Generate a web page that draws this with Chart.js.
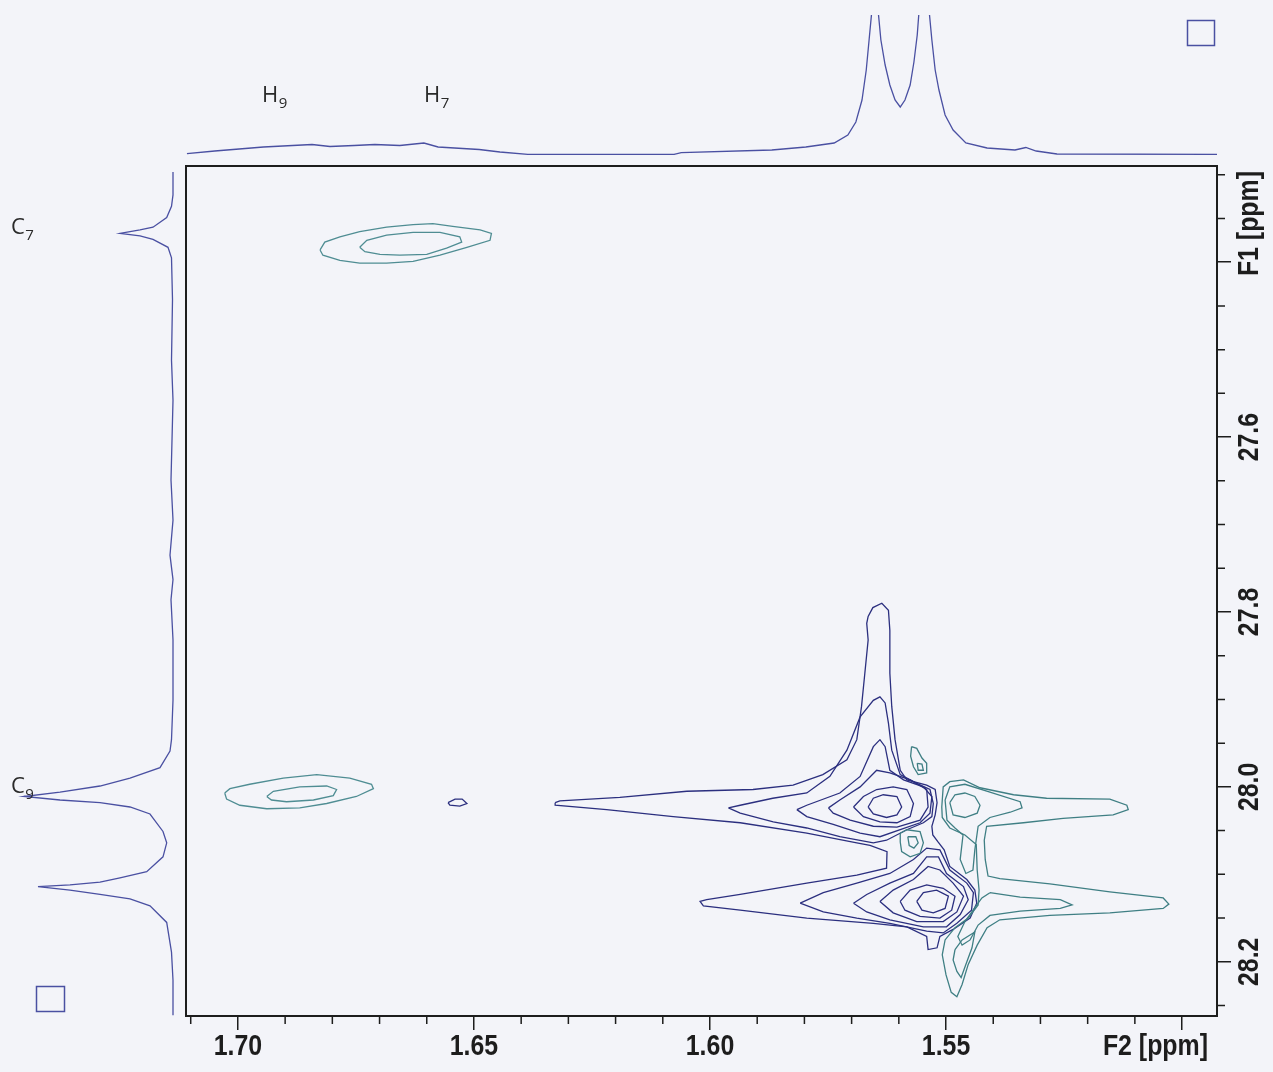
<!DOCTYPE html>
<html>
<head>
<meta charset="utf-8">
<title>HSQC 1.49-1.71 / 27.29-28.26 ppm</title>
<script src="https://cdn.jsdelivr.net/npm/chart.js@4.4.1/dist/chart.umd.min.js"></script>
<style>
  html, body { margin: 0; padding: 0; background: #f3f4f9; }
  #stage { position: relative; width: 1273px; height: 1072px; overflow: hidden; }
  #stage canvas { position: absolute; }
  #spectrum { left: 0; top: 0; }
  #projF1 { left: 0; top: 0; }
  #projF2 { left: 186px; top: 0; }
</style>
</head>
<body>
<div id="stage">
  <canvas id="spectrum" width="1273" height="1072"></canvas>
  <canvas id="projF1" width="186" height="1072"></canvas>
  <canvas id="projF2" width="1031" height="166"></canvas>
</div>
<script>
// ---------- plotted window (ppm) ----------
const f2Range = [1.4926, 1.711];   // 1H, drawn right-to-left
const f1Range = [27.29, 28.262];   // 13C, drawn top-to-bottom

const f2MajorTicks = [1.50, 1.55, 1.60, 1.65, 1.70];
const f2MinorTicks = [1.51, 1.52, 1.53, 1.54, 1.56, 1.57, 1.58, 1.59, 1.61, 1.62, 1.63, 1.64, 1.66, 1.67, 1.68, 1.69, 1.71];
const f1MajorTicks = [27.4, 27.6, 27.8, 28.0, 28.2];
const f1MinorTicks = [27.30, 27.35, 27.45, 27.50, 27.55, 27.65, 27.70, 27.75, 27.85, 27.90, 27.95, 28.05, 28.10, 28.15, 28.25];
const f2UnitSlot = 1.50;   // tick whose label is replaced by the axis unit
const f1UnitSlot = 27.4;

// ---------- 1D projections ----------
// F2 (1H) projection: chemical shift / intensity
const f2ProjPpm = [1.7108, 1.7049, 1.6946, 1.6843, 1.6805, 1.6754, 1.6710, 1.6657, 1.6606, 1.6576, 1.6489, 1.6445, 1.6386, 1.6076, 1.6061, 1.5869, 1.5797, 1.5737, 1.5708, 1.5691, 1.5678, 1.5669, 1.5663, 1.5657, 1.5650, 1.5644, 1.5638, 1.5629, 1.5619, 1.5608, 1.5597, 1.5587, 1.5576, 1.5568, 1.5561, 1.5557, 1.5547, 1.5536, 1.5530, 1.5523, 1.5515, 1.5502, 1.5485, 1.5458, 1.5413, 1.5354, 1.5331, 1.5309, 1.5265, 1.4926];
const f2ProjInt = [1.4, 4, 8, 10.5, 8.5, 9.5, 10.5, 9.5, 12, 8, 5.5, 3, 0.7, 0.7, 2.4, 5, 8, 12, 20, 33, 55, 85, 115, 145, 200, 145, 115, 90, 70, 55, 48, 55, 70, 93, 120, 145, 200, 145, 115, 85, 65, 40, 25, 12, 7, 5, 7.5, 4, 1, 0.7];

// F1 (13C) projection: chemical shift / intensity
const f1ProjPpm = [27.297, 27.323, 27.336, 27.349, 27.360, 27.363, 27.367, 27.370, 27.374, 27.383, 27.395, 27.443, 27.512, 27.558, 27.649, 27.695, 27.735, 27.763, 27.786, 27.832, 27.901, 27.946, 27.959, 27.978, 27.990, 27.999, 28.006, 28.011, 28.015, 28.018, 28.023, 28.031, 28.051, 28.064, 28.080, 28.097, 28.104, 28.109, 28.112, 28.114, 28.118, 28.123, 28.128, 28.136, 28.155, 28.189, 28.221, 28.261];
const f1ProjInt = [0, 0, 1.5, 6.3, 20, 33, 53, 33, 20, 5, 1.5, 0.5, 1.5, 0, 2, 0, 3, 0, 2, 0, 0, 1.5, 3, 13, 43, 73, 113, 149, 113, 73, 43, 23, 10, 6.3, 10, 26.3, 53, 73, 103, 135, 103, 73, 43, 23, 6.3, 1.5, 0, 0];

// ---------- assignment labels ----------
const protonLabels = [{ atom: 'H', index: '9', ppm: 1.6949 }, { atom: 'H', index: '7', ppm: 1.6606 }];
const carbonLabels = [{ atom: 'C', index: '7', ppm: 27.368 }, { atom: 'C', index: '9', ppm: 28.007 }];

// ---------- contour levels, [F2 ppm, F1 ppm] ----------
// C7/H7 and C9/H9 cross peaks
const c7h7Outer = [[1.6826,27.386],[1.6816,27.377],[1.6784,27.371],[1.6742,27.365],[1.6685,27.360],[1.6629,27.357],[1.6587,27.356],[1.6545,27.359],[1.6487,27.363],[1.6463,27.367],[1.6466,27.375],[1.6515,27.383],[1.6572,27.392],[1.6629,27.399],[1.6685,27.401],[1.6742,27.401],[1.6784,27.398],[1.6820,27.392]];
const c7h7Inner = [[1.6742,27.383],[1.6727,27.375],[1.6685,27.369],[1.6629,27.366],[1.6572,27.366],[1.6530,27.371],[1.6526,27.377],[1.6558,27.384],[1.6600,27.391],[1.6657,27.392],[1.6699,27.391],[1.6731,27.388]];
const c9h9Outer = [[1.7028,28.007],[1.7017,28.002],[1.6975,27.997],[1.6904,27.990],[1.6833,27.986],[1.6763,27.990],[1.6717,27.997],[1.6713,28.002],[1.6749,28.011],[1.6812,28.019],[1.6869,28.024],[1.6939,28.025],[1.6996,28.021],[1.7024,28.014]];
const c9h9Inner = [[1.6939,28.011],[1.6925,28.005],[1.6869,28.000],[1.6812,27.999],[1.6791,28.003],[1.6798,28.010],[1.6840,28.015],[1.6897,28.017],[1.6929,28.015]];

// positive levels of the strong 1.55-1.57 ppm multiplet
const posOuter = [[1.6328,28.018],[1.6318,28.016],[1.6191,28.012],[1.6049,28.005],[1.5909,28.003],[1.5824,27.998],[1.5761,27.986],[1.5710,27.969],[1.5689,27.946],[1.5679,27.908],[1.5672,27.870],[1.5665,27.832],[1.5668,27.813],[1.5665,27.805],[1.5655,27.795],[1.5636,27.790],[1.5622,27.798],[1.5619,27.821],[1.5619,27.870],[1.5615,27.908],[1.5608,27.946],[1.5597,27.981],[1.5583,27.992],[1.5541,27.998],[1.5523,28.003],[1.5519,28.018],[1.5523,28.032],[1.5530,28.045],[1.5528,28.055],[1.5517,28.063],[1.5504,28.072],[1.5492,28.091],[1.5456,28.106],[1.5439,28.118],[1.5435,28.133],[1.5449,28.150],[1.5485,28.163],[1.5513,28.171],[1.5519,28.184],[1.5538,28.186],[1.5541,28.171],[1.5583,28.160],[1.5654,28.156],[1.5795,28.150],[1.5936,28.141],[1.6014,28.136],[1.6021,28.131],[1.6007,28.129],[1.5936,28.123],[1.5795,28.110],[1.5689,28.101],[1.5626,28.093],[1.5625,28.074],[1.5661,28.067],[1.5689,28.064],[1.5795,28.053],[1.5936,28.041],[1.6078,28.034],[1.6219,28.026],[1.6328,28.021]];
const posUpper2 = [[1.5961,28.024],[1.5936,28.021],[1.5867,28.013],[1.5795,28.007],[1.5746,27.988],[1.5710,27.958],[1.5682,27.920],[1.5654,27.901],[1.5640,27.897],[1.5629,27.904],[1.5622,27.927],[1.5615,27.958],[1.5597,27.986],[1.5562,27.996],[1.5534,28.003],[1.5527,28.019],[1.5530,28.034],[1.5548,28.041],[1.5583,28.049],[1.5626,28.061],[1.5654,28.064],[1.5725,28.057],[1.5795,28.047],[1.5866,28.040],[1.5936,28.030]];
const posUpper3 = [[1.5816,28.026],[1.5795,28.021],[1.5725,28.007],[1.5682,27.988],[1.5654,27.954],[1.5640,27.946],[1.5629,27.954],[1.5619,27.981],[1.5590,27.992],[1.5548,28.000],[1.5530,28.011],[1.5534,28.030],[1.5555,28.041],[1.5597,28.049],[1.5640,28.057],[1.5682,28.053],[1.5739,28.043],[1.5795,28.034]];
const posUpper4 = [[1.5749,28.024],[1.5725,28.015],[1.5682,28.000],[1.5647,27.981],[1.5619,27.984],[1.5576,27.992],[1.5541,28.003],[1.5538,28.023],[1.5555,28.038],[1.5604,28.046],[1.5654,28.045],[1.5703,28.038],[1.5739,28.030]];
const posUpper5 = [[1.5696,28.023],[1.5675,28.011],[1.5647,28.003],[1.5612,28.000],[1.5583,28.003],[1.5569,28.019],[1.5576,28.034],[1.5604,28.041],[1.5640,28.040],[1.5675,28.034]];
const posUpper6 = [[1.5665,28.023],[1.5654,28.013],[1.5633,28.009],[1.5604,28.011],[1.5594,28.023],[1.5604,28.032],[1.5626,28.035],[1.5654,28.031]];
const posLower2 = [[1.5809,28.133],[1.5760,28.121],[1.5689,28.110],[1.5619,28.099],[1.5569,28.083],[1.5541,28.070],[1.5513,28.072],[1.5492,28.095],[1.5456,28.110],[1.5442,28.121],[1.5446,28.141],[1.5477,28.156],[1.5506,28.167],[1.5541,28.165],[1.5619,28.156],[1.5689,28.150],[1.5760,28.143]];
const posLower3 = [[1.5696,28.133],[1.5668,28.123],[1.5619,28.110],[1.5569,28.099],[1.5541,28.080],[1.5516,28.080],[1.5499,28.099],[1.5463,28.114],[1.5453,28.129],[1.5470,28.146],[1.5499,28.160],[1.5548,28.160],[1.5619,28.152],[1.5668,28.143]];
const posLower4 = [[1.5640,28.131],[1.5612,28.118],[1.5569,28.106],[1.5538,28.091],[1.5513,28.095],[1.5485,28.110],[1.5463,28.125],[1.5477,28.143],[1.5506,28.154],[1.5562,28.154],[1.5612,28.144]];
const posLower5 = [[1.5597,28.131],[1.5576,28.118],[1.5541,28.112],[1.5506,28.116],[1.5481,28.125],[1.5488,28.141],[1.5513,28.150],[1.5555,28.148],[1.5587,28.141]];
const posLower6 = [[1.5562,28.131],[1.5548,28.121],[1.5520,28.118],[1.5495,28.125],[1.5502,28.139],[1.5527,28.144],[1.5551,28.141]];
const posSmall = [[1.6555,28.018],[1.6540,28.014],[1.6525,28.014],[1.6515,28.019],[1.6530,28.022],[1.6551,28.021]];

// negative levels next to the multiplet
const negOuter = [[1.5509,28.023],[1.5506,28.000],[1.5492,27.994],[1.5463,27.992],[1.5428,28.001],[1.5357,28.009],[1.5287,28.013],[1.5153,28.014],[1.5117,28.021],[1.5114,28.026],[1.5146,28.032],[1.5252,28.036],[1.5336,28.041],[1.5414,28.045],[1.5419,28.061],[1.5417,28.083],[1.5411,28.102],[1.5386,28.105],[1.5280,28.111],[1.5153,28.120],[1.5040,28.127],[1.5028,28.134],[1.5040,28.139],[1.5153,28.144],[1.5280,28.147],[1.5386,28.152],[1.5413,28.161],[1.5434,28.181],[1.5453,28.203],[1.5466,28.226],[1.5477,28.240],[1.5489,28.235],[1.5500,28.215],[1.5508,28.192],[1.5502,28.175],[1.5481,28.161],[1.5453,28.150],[1.5432,28.135],[1.5430,28.118],[1.5434,28.095],[1.5436,28.066],[1.5460,28.055],[1.5492,28.047],[1.5508,28.035]];
const negUpper2 = [[1.5502,28.015],[1.5492,28.000],[1.5460,27.997],[1.5407,28.006],[1.5343,28.017],[1.5339,28.024],[1.5364,28.029],[1.5407,28.035],[1.5432,28.045],[1.5439,28.072],[1.5443,28.095],[1.5458,28.099],[1.5470,28.083],[1.5464,28.055],[1.5481,28.047],[1.5498,28.038]];
const negUpper3 = [[1.5492,28.018],[1.5481,28.009],[1.5460,28.007],[1.5439,28.011],[1.5428,28.021],[1.5434,28.030],[1.5460,28.035],[1.5485,28.032]];
const negLower2 = [[1.5407,28.121],[1.5343,28.126],[1.5258,28.129],[1.5233,28.135],[1.5258,28.139],[1.5343,28.142],[1.5407,28.147],[1.5432,28.158],[1.5449,28.175],[1.5466,28.181],[1.5475,28.171],[1.5460,28.154],[1.5439,28.138],[1.5424,28.127]];
const negLower3 = [[1.5481,28.186],[1.5466,28.175],[1.5439,28.166],[1.5445,28.184],[1.5458,28.203],[1.5468,28.218],[1.5477,28.211],[1.5485,28.198]];
const negNeck = [[1.5597,28.053],[1.5583,28.049],[1.5555,28.051],[1.5548,28.064],[1.5555,28.076],[1.5576,28.080],[1.5594,28.074],[1.5597,28.063]];
const negNeckCore = [[1.5581,28.057],[1.5564,28.057],[1.5559,28.064],[1.5568,28.070],[1.5578,28.067]];
const negSpur = [[1.5573,27.954],[1.5562,27.956],[1.5551,27.967],[1.5541,27.973],[1.5541,27.984],[1.5559,27.986],[1.5569,27.977],[1.5575,27.965]];
const negSpurCore = [[1.5561,27.973],[1.5551,27.974],[1.5548,27.981],[1.5559,27.981]];

// ---------- styling ----------
const POS_COLOR = '#2b2f7f';
const NEG_COLOR = '#3f7f84';
const CROSS_COLOR = '#4f8d93';
const PROJ_COLOR = '#4a50a2';
const AXIS_COLOR = '#1d1d1d';
const AXIS_FAMILY = "'Liberation Sans', Arial, sans-serif";
const AXIS_SIZE = 30;
const AXIS_SQUEEZE = 0.83;   // narrow bold face
const LABEL_FAMILY = "'Open Sans', 'DejaVu Sans', sans-serif";

function contour(points, color) {
  const data = points.map(p => ({ x: p[0], y: p[1] }));
  data.push({ x: points[0][0], y: points[0][1] });
  return { data, showLine: true, borderColor: color, borderWidth: 1.3, pointRadius: 0, fill: false, tension: 0 };
}

const positiveLevels = [posOuter, posUpper2, posUpper3, posUpper4, posUpper5, posUpper6,
  posLower2, posLower3, posLower4, posLower5, posLower6, posSmall];
const negativeLevels = [negOuter, negUpper2, negUpper3, negLower2, negLower3, negNeck, negNeckCore, negSpur, negSpurCore];
const crossPeakLevels = [c7h7Outer, c7h7Inner, c9h9Outer, c9h9Inner];

const datasets = [
  ...crossPeakLevels.map(c => contour(c, CROSS_COLOR)),
  ...negativeLevels.map(c => contour(c, NEG_COLOR)),
  ...positiveLevels.map(c => contour(c, POS_COLOR))
];

function drawIndexed(ctx, atom, index, x, baseline, size) {
  ctx.font = `${size}px ${LABEL_FAMILY}`;
  ctx.textAlign = 'left';
  ctx.textBaseline = 'alphabetic';
  ctx.fillText(atom, x, baseline);
  const w = ctx.measureText(atom).width;
  ctx.font = `${Math.round(size * 0.68)}px ${LABEL_FAMILY}`;
  ctx.fillText(index, x + w + 0.5, baseline + size * 0.25);
}

// axis text in a condensed bold face; angle 0 = horizontal, -90deg = reads upward
function axisText(ctx, text, x, y, align, angle) {
  ctx.save();
  ctx.translate(x, y);
  if (angle) ctx.rotate(angle);
  ctx.scale(AXIS_SQUEEZE, 1);
  ctx.textAlign = align;
  ctx.textBaseline = 'middle';
  ctx.fillText(text, 0, 0);
  ctx.restore();
}

// frame, minor ticks, tick labels and axis units
const axisDecor = {
  id: 'axisDecor',
  afterDraw(chart) {
    const { ctx, chartArea: a, scales: { x, y } } = chart;
    ctx.save();
    ctx.strokeStyle = AXIS_COLOR;
    ctx.lineWidth = 1.5;
    ctx.beginPath();
    f2MinorTicks.forEach(v => {
      const px = x.getPixelForValue(v);
      ctx.moveTo(px, a.bottom); ctx.lineTo(px, a.bottom + 8);
    });
    f1MinorTicks.forEach(v => {
      const py = y.getPixelForValue(v);
      ctx.moveTo(a.right, py); ctx.lineTo(a.right + 8, py);
    });
    ctx.stroke();
    ctx.lineWidth = 2;
    ctx.strokeRect(a.left, a.top, a.right - a.left, a.bottom - a.top);

    ctx.fillStyle = AXIS_COLOR;
    ctx.font = `bold ${AXIS_SIZE}px ${AXIS_FAMILY}`;
    f2MajorTicks.forEach(v => {
      if (v === f2UnitSlot) return;
      axisText(ctx, v.toFixed(2), x.getPixelForValue(v), a.bottom + 31, 'center', 0);
    });
    axisText(ctx, 'F2 [ppm]', a.right - 9, a.bottom + 31, 'right', 0);
    f1MajorTicks.forEach(v => {
      if (v === f1UnitSlot) return;
      axisText(ctx, v.toFixed(1), a.right + 33, y.getPixelForValue(v), 'center', -Math.PI / 2);
    });
    axisText(ctx, 'F1 [ppm]', a.right + 33, a.top + 5, 'right', -Math.PI / 2);
    ctx.restore();
  }
};

new Chart(document.getElementById('spectrum'), {
  type: 'scatter',
  data: { datasets },
  options: {
    responsive: false,
    animation: false,
    events: [],
    layout: { padding: { left: 186, top: 166, right: 0, bottom: 0 } },
    plugins: { legend: { display: false }, tooltip: { enabled: false } },
    scales: {
      x: {
        type: 'linear', position: 'bottom', reverse: true,
        min: f2Range[0], max: f2Range[1],
        afterBuildTicks: s => { s.ticks = f2MajorTicks.map(v => ({ value: v })); },
        afterFit: s => { s.height = 56; },
        border: { display: false },
        grid: { drawOnChartArea: false, drawTicks: true, tickLength: 14, color: AXIS_COLOR, lineWidth: 1.5 },
        ticks: { autoSkip: false, maxRotation: 0, callback: () => '' }
      },
      y: {
        type: 'linear', position: 'right', reverse: true,
        min: f1Range[0], max: f1Range[1],
        afterBuildTicks: s => { s.ticks = f1MajorTicks.map(v => ({ value: v })); },
        afterFit: s => { s.width = 56; },
        border: { display: false },
        grid: { drawOnChartArea: false, drawTicks: true, tickLength: 14, color: AXIS_COLOR, lineWidth: 1.5 },
        ticks: { callback: () => '' }
      }
    }
  },
  plugins: [axisDecor]
});

// ---------- F2 projection (top) ----------
const topDecor = {
  id: 'topDecor',
  afterDraw(chart) {
    const { ctx, chartArea: a, scales: { x } } = chart;
    ctx.save();
    ctx.fillStyle = '#2a2a2a';
    protonLabels.forEach(l => drawIndexed(ctx, l.atom, l.index, x.getPixelForValue(l.ppm), a.top + 87, 22));
    ctx.strokeStyle = PROJ_COLOR;
    ctx.lineWidth = 1.5;
    ctx.strokeRect(a.right - 29.5, a.top + 5.5, 27, 25);
    ctx.restore();
  }
};

new Chart(document.getElementById('projF2'), {
  type: 'scatter',
  data: {
    datasets: [{
      data: f2ProjPpm.map((v, i) => ({ x: v, y: f2ProjInt[i] })),
      showLine: true, borderColor: PROJ_COLOR, borderWidth: 1.3, pointRadius: 0, tension: 0
    }]
  },
  options: {
    responsive: false, animation: false, events: [],
    layout: { padding: { left: 0, right: 0, top: 15, bottom: 11 } },
    plugins: { legend: { display: false }, tooltip: { enabled: false } },
    scales: {
      x: { type: 'linear', display: false, reverse: true, min: f2Range[0], max: f2Range[1] },
      y: { type: 'linear', display: false, min: 0, max: 140 }
    }
  },
  plugins: [topDecor]
});

// ---------- F1 projection (left) ----------
const sideDecor = {
  id: 'sideDecor',
  afterDraw(chart) {
    const { ctx, chartArea: a, scales: { y } } = chart;
    ctx.save();
    ctx.fillStyle = '#2a2a2a';
    carbonLabels.forEach(l => drawIndexed(ctx, l.atom, l.index, a.left + 11, y.getPixelForValue(l.ppm), 22));
    ctx.strokeStyle = PROJ_COLOR;
    ctx.lineWidth = 1.5;
    ctx.strokeRect(a.left + 36.5, a.bottom - 29.5, 28, 25);
    ctx.restore();
  }
};

new Chart(document.getElementById('projF1'), {
  type: 'scatter',
  data: {
    datasets: [{
      data: f1ProjPpm.map((v, i) => ({ x: f1ProjInt[i], y: v })),
      showLine: true, borderColor: PROJ_COLOR, borderWidth: 1.3, pointRadius: 0, tension: 0
    }]
  },
  options: {
    responsive: false, animation: false, events: [],
    layout: { padding: { left: 0, right: 0, top: 166, bottom: 56 } },
    plugins: { legend: { display: false }, tooltip: { enabled: false } },
    scales: {
      x: { type: 'linear', display: false, reverse: true, min: -13, max: 173 },
      y: { type: 'linear', display: false, reverse: true, min: f1Range[0], max: f1Range[1] }
    }
  },
  plugins: [sideDecor]
});
</script>
</body>
</html>
